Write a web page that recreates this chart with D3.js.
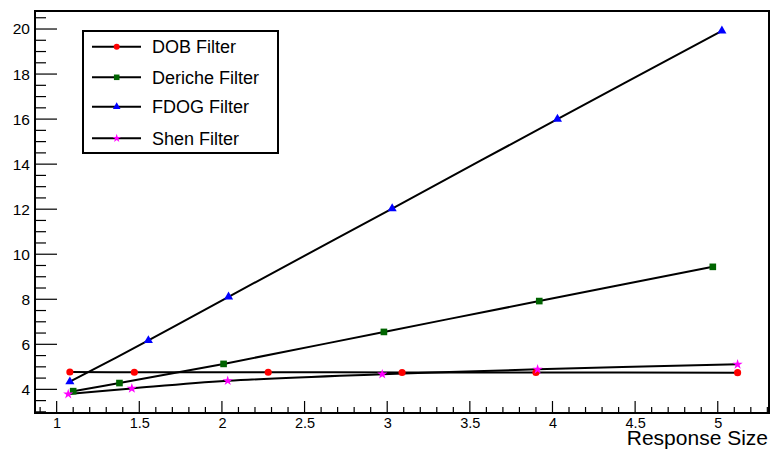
<!DOCTYPE html>
<html><head><meta charset="utf-8">
<script src="https://cdn.jsdelivr.net/npm/d3@7"></script>
<style>body{margin:0;background:#fff}svg{display:block}text{font-family:"Liberation Sans",Arial,sans-serif}</style>
</head><body><svg id="c" width="774" height="452"></svg>
<script>
const seriesNames = ["DOB Filter", "Deriche Filter", "FDOG Filter", "Shen Filter"];
const dobX = [1.08, 1.47, 2.28, 3.09, 3.90, 5.12];
const dobY = [4.77, 4.76, 4.76, 4.75, 4.75, 4.74];
const dericheX = [1.10, 1.38, 2.01, 2.98, 3.92, 4.97];
const dericheY = [3.92, 4.28, 5.13, 6.55, 7.92, 9.44];
const fdogX = [1.08, 1.555, 2.04, 3.03, 4.03, 5.025];
const fdogY = [4.34, 6.17, 8.11, 12.03, 16.0, 19.92];
const shenX = [1.07, 1.455, 2.035, 2.97, 3.91, 5.12];
const shenY = [3.79, 4.04, 4.38, 4.67, 4.89, 5.11];
const xTicks = [1, 1.5, 2, 2.5, 3, 3.5, 4, 4.5, 5];
const yTicks = [4, 6, 8, 10, 12, 14, 16, 18, 20];
const xTitle = "Response Size";

const svg = d3.select("#c");
const L = 35, R = 769, T = 11, B = 413;
const x = d3.scaleLinear().domain([0.869, 5.31]).range([L, R]);
const y = d3.scaleLinear().domain([2.95, 20.8]).range([B, T]);

const series = [
  {name: seriesNames[0], xs: dobX, ys: dobY, color: "#ff0000", sym: d3.symbolCircle, size: 40},
  {name: seriesNames[1], xs: dericheX, ys: dericheY, color: "#006400", sym: d3.symbolSquare, size: 44},
  {name: seriesNames[2], xs: fdogX, ys: fdogY, color: "#0000ff", sym: d3.symbolTriangle, size: 36},
  {name: seriesNames[3], xs: shenX, ys: shenY, color: "#ff00ff", sym: d3.symbolStar, size: 32}
];

// axes ticks
const minorX = d3.range(0.9, 5.31, 0.1).map(v => +v.toFixed(2));
const minorY = d3.range(3, 20.81, 0.5).map(v => +v.toFixed(2));
const xAxis = d3.axisBottom(x).tickValues(xTicks).tickSize(0).tickFormat(d3.format("~g"));
const gx = svg.append("g").attr("transform", `translate(0,${B})`).call(xAxis);
gx.select(".domain").remove();
gx.selectAll("text").attr("font-size", 14.5).attr("fill", "#000").attr("y", 14.5).attr("dy", 0);
svg.append("g").selectAll("line").data(minorX).join("line")
  .attr("x1", d => x(d)).attr("x2", d => x(d))
  .attr("y1", B).attr("y2", d => B - (xTicks.some(t => Math.abs(t - d) < 1e-6) ? 12 : 6))
  .attr("stroke", "#000").attr("stroke-width", 1.2);

const yAxis = d3.axisLeft(y).tickValues(yTicks).tickSize(0).tickPadding(5);
const gy = svg.append("g").attr("transform", `translate(${L},0)`).call(yAxis);
gy.select(".domain").remove();
gy.selectAll("text").attr("font-size", 15.5).attr("fill", "#000");
svg.append("g").selectAll("line").data(minorY).join("line")
  .attr("y1", d => y(d)).attr("y2", d => y(d))
  .attr("x1", L).attr("x2", d => L + (yTicks.some(t => Math.abs(t - d) < 1e-6) ? 22 : 11))
  .attr("stroke", "#000").attr("stroke-width", 1.2);

// frame
svg.append("rect").attr("x", L).attr("y", T).attr("width", R - L).attr("height", B - T)
  .attr("fill", "none").attr("stroke", "#000").attr("stroke-width", 2);

// lines
const line = d3.line().x(d => x(d[0])).y(d => y(d[1])).curve(d3.curveCatmullRom.alpha(0.5));
series.forEach(s => {
  const pts = s.xs.map((v, i) => [v, s.ys[i]]);
  svg.append("path").datum(pts).attr("d", line).attr("fill", "none")
    .attr("stroke", "#000").attr("stroke-width", 2);
});
series.forEach(s => {
  const pts = s.xs.map((v, i) => [v, s.ys[i]]);
  svg.append("g").selectAll("path").data(pts).join("path")
    .attr("transform", d => `translate(${x(d[0])},${y(d[1])})`)
    .attr("d", d3.symbol().type(s.sym).size(s.size)).attr("fill", s.color);
});

// title
svg.append("text").attr("x", 768).attr("y", 445).attr("text-anchor", "end")
  .attr("font-size", 21).attr("fill", "#000").text(xTitle);

// legend
const lg = svg.append("g");
lg.append("rect").attr("x", 83).attr("y", 31).attr("width", 195).attr("height", 122)
  .attr("fill", "#fff").attr("stroke", "#000").attr("stroke-width", 2);
const rowY = [46.7, 77.3, 106.7, 138.3];
series.forEach((s, i) => {
  const g = lg.append("g").attr("transform", `translate(0,${rowY[i]})`);
  g.append("line").attr("x1", 92).attr("x2", 141).attr("stroke", "#000").attr("stroke-width", 2);
  g.append("path").attr("transform", "translate(116.7,0)")
    .attr("d", d3.symbol().type(s.sym).size(s.size * 0.7)).attr("fill", s.color);
  g.append("text").attr("x", 152).attr("y", 0).attr("dy", "0.35em")
    .attr("font-size", 18).attr("fill", "#000").text(s.name);
});
</script></body></html>
